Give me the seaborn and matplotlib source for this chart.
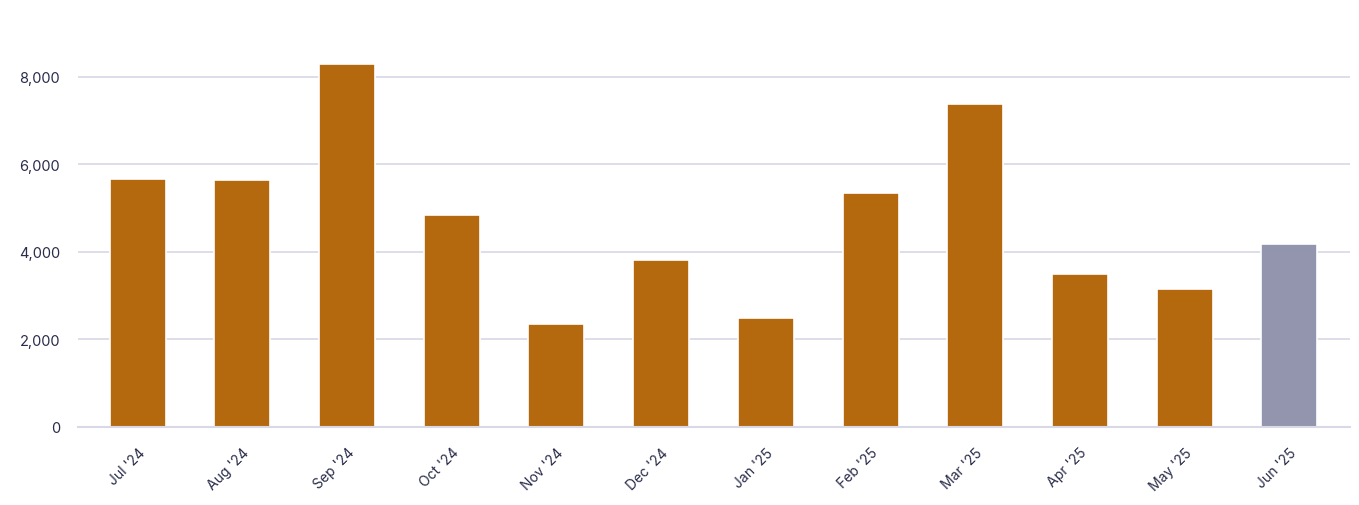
import matplotlib
matplotlib.use("Agg")
import matplotlib.pyplot as plt
import seaborn as sns
import pandas as pd
from matplotlib.ticker import FuncFormatter

months = ["Jul '24", "Aug '24", "Sep '24", "Oct '24", "Nov '24", "Dec '24",
          "Jan '25", "Feb '25", "Mar '25", "Apr '25", "May '25", "Jun '25"]
values = [5670, 5640, 8300, 4840, 2350, 3820, 2490, 5350, 7380, 3500, 3150, 4180]
status = ["complete"] * 11 + ["partial"]
palette = {"complete": "#B5690F", "partial": "#9394AE"}

df = pd.DataFrame({"month": months, "value": values, "status": status})

sns.set_theme(style="white")
plt.rcParams["font.family"] = ["Inter", "DejaVu Sans"]

fig = plt.figure(figsize=(13.59, 5.06), dpi=100)
ax = fig.add_axes([78 / 1359, 1 - 428 / 506, (1350 - 78) / 1359, (428 - 34) / 506])

sns.barplot(data=df, x="month", y="value", hue="status", palette=palette,
            dodge=False, width=0.535, edgecolor="white", linewidth=1.2,
            saturation=1, legend=False, ax=ax, zorder=3)

grid_c = "#D8D8E6"
text_c = "#2A2D4A"
ax.set_ylim(0, 9000)
ax.set_xlim(-0.57, 11.58)
ax.set_yticks([0, 2000, 4000, 6000, 8000])
ax.yaxis.set_major_formatter(FuncFormatter(lambda v, p: f"{int(v):,}"))
ax.grid(axis="y", color=grid_c, linewidth=1.2, zorder=0)
ax.set_axisbelow(True)
for s in ["top", "right", "left"]:
    ax.spines[s].set_visible(False)
ax.spines["bottom"].set_color(grid_c)
ax.spines["bottom"].set_linewidth(1.5)
ax.spines["bottom"].set_zorder(4)
ax.tick_params(axis="x", length=10, width=1.2, color=grid_c, pad=3,
               labelsize=10, labelcolor=text_c)
ax.tick_params(axis="y", length=0, pad=13, labelsize=10.5, labelcolor=text_c)
for lbl in ax.get_xticklabels():
    lbl.set_rotation(45)
    lbl.set_ha("right")
    lbl.set_rotation_mode("anchor")
ax.set_xlabel("")
ax.set_ylabel("")

fig.savefig("out.png", dpi=100, facecolor="white")
